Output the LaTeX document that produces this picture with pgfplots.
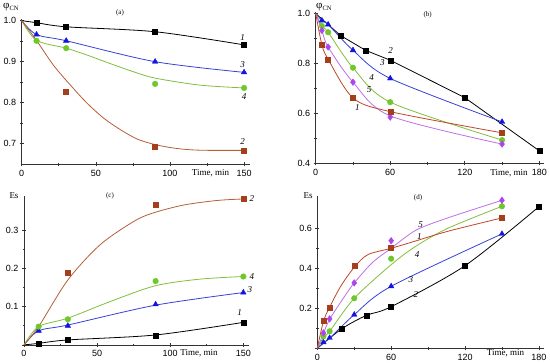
\documentclass[border=0pt]{standalone}
\usepackage{fontspec}
\setmainfont{Liberation Serif}
\setsansfont{Liberation Sans}
\usepackage{pgfplots}
\pgfplotsset{compat=1.18}
\definecolor{cbrownm}{RGB}{165,62,28}
\definecolor{cbrownl}{RGB}{180,95,55}
\definecolor{cbrownl2}{RGB}{190,70,40}
\definecolor{cbluem}{RGB}{20,20,225}
\definecolor{cbluel}{RGB}{55,65,215}
\definecolor{cgreenm}{RGB}{110,200,40}
\definecolor{cgreenl}{RGB}{130,190,60}
\definecolor{cmagm}{RGB}{170,70,240}
\definecolor{cmagl}{RGB}{190,110,230}
\tikzset{num/.style={font=\itshape\fontsize{9}{10}\selectfont}}
\pgfplotsset{
  panel/.style={scale only axis, anchor=south west, axis lines=left,
    axis line style={-, line width=0.7pt, black!80},
    tick align=center, major tick length=4pt, minor tick length=2.5pt,
    every tick/.style={black!80, line width=0.6pt},
    ticklabel style={font=\sffamily\fontsize{9}{10}\selectfont},
    /pgf/number format/assume math mode=true,
    minor x tick num=1, minor y tick num=1, clip=false},
  lk/.style={line width=0.8pt, black, smooth, tension=0.5, no markers},
  mk/.style={only marks, mark=square*, mark size=2.5pt, black},
  mbr/.style={only marks, mark=square*, mark size=2.5pt, cbrownm},
  mbl/.style={only marks, mark=triangle*, mark size=3.2pt, cbluem},
  mgr/.style={only marks, mark=*, mark size=2.8pt, cgreenm},
  mmg/.style={only marks, mark=diamond*, mark size=3.3pt, cmagm}
}
\begin{document}
\begin{tikzpicture}
\useasboundingbox (0,0) rectangle (550pt,364pt);
% ---------------- (a)
\begin{axis}[panel, at={(21.7pt,199.7pt)}, width=228.3pt, height=145.7pt,
  xmin=0, xmax=154, ymin=0.65, ymax=1.005,
  xtick={0,50,100,150}, xticklabels={0,50,100,150},
  ytick={0.7,0.8,0.9,1.0}, yticklabels={0.7,0.8,0.9,1.0}]
\addplot[lk] coordinates {(0,1.0)(10,0.995)(30,0.985)(90,0.973)(150,0.941)};
\addplot[lk, cbluel] coordinates {(0,1.0)(10,0.966)(30,0.951)(90,0.900)(150,0.874)};
\addplot[lk, cgreenl] coordinates {(0,1.0)(10,0.952)(30,0.933)(45,0.915)(60,0.895)(75,0.876)(90,0.860)(120,0.843)(150,0.836)};
\addplot[lk, cbrownl] coordinates {(0,1.0)(9,0.957)(21.3,0.892)(32.6,0.844)(43.8,0.800)(55.1,0.763)(66.3,0.735)(77.6,0.712)(88.8,0.699)(100,0.691)(111.3,0.686)(124.8,0.684)(150,0.684)};
\addplot[mk] coordinates {(10,0.995)(30,0.985)(90,0.973)(150,0.941)};
\addplot[mbl] coordinates {(10,0.966)(30,0.951)(90,0.900)(150,0.874)};
\addplot[mgr] coordinates {(10,0.951)(30,0.933)(90,0.846)(150,0.836)};
\addplot[mbr] coordinates {(30,0.828)(90,0.693)(150,0.684)};
\node[num] at (axis cs:149,0.958) {1};
\node[num] at (axis cs:149,0.894) {3};
\node[num] at (axis cs:150,0.815) {4};
\node[num] at (axis cs:149,0.706) {2};
\end{axis}
% ---------------- (b)
\begin{axis}[panel, at={(315.7pt,200.7pt)}, width=228.6pt, height=151pt,
  xmin=0, xmax=184, ymin=0.4, ymax=1.005,
  xtick={0,60,120,180}, xticklabels={0,60,120,180},
  ytick={0.4,0.6,0.8,1.0}, yticklabels={0.4,0.6,0.8,1.0}]
\addplot[line width=0.8pt, black, no markers] coordinates {(0,1.0)(20,0.912)(40,0.853)(60,0.813)(120,0.663)(180,0.450)};
\addplot[lk, cbluel] coordinates {(0,1.0)(5,0.972)(10,0.956)(30,0.853)(60,0.740)(150,0.566)};
\addplot[lk, cgreenl] coordinates {(0,1.0)(5,0.950)(10,0.925)(30,0.783)(60,0.645)(150,0.493)};
\addplot[lk, cmagl] coordinates {(0,1.0)(5,0.932)(10,0.866)(30,0.725)(60,0.590)(150,0.477)};
\addplot[lk, cbrownl2] coordinates {(0,1.0)(5,0.875)(10,0.817)(30,0.662)(60,0.607)(150,0.522)};
\addplot[mk] coordinates {(20,0.912)(40,0.853)(60,0.813)(120,0.663)(180,0.450)};
\addplot[mbl] coordinates {(5,0.972)(10,0.956)(30,0.853)(60,0.740)(150,0.566)};
\addplot[mgr] coordinates {(5,0.950)(10,0.925)(30,0.783)(60,0.645)(150,0.493)};
\addplot[mmg] coordinates {(5,0.932)(10,0.866)(30,0.725)(60,0.585)(150,0.477)};
\addplot[mbr] coordinates {(5,0.875)(10,0.817)(30,0.662)(60,0.607)(150,0.522)};
\node[num] at (axis cs:60.4,0.850) {2};
\node[num] at (axis cs:53.6,0.804) {3};
\node[num] at (axis cs:45,0.744) {4};
\node[num] at (axis cs:43,0.694) {5};
\node[num] at (axis cs:33.5,0.622) {1};
\end{axis}
% ---------------- (c)
\begin{axis}[panel, at={(24pt,19.1pt)}, width=225.2pt, height=149pt,
  xmin=0, xmax=154, ymin=0, ymax=0.39,
  xtick={0,50,100,150}, xticklabels={0,50,100,150},
  ytick={0,0.1,0.2,0.3}, yticklabels={,0.1,0.2,0.3}]
\addplot[lk] coordinates {(0,0)(10,0.004)(30,0.013)(90,0.026)(150,0.059)};
\addplot[lk, cbluel] coordinates {(0,0)(10,0.037)(30,0.052)(90,0.104)(150,0.137)};
\addplot[lk, cgreenl] coordinates {(0,0)(10,0.048)(30,0.070)(60,0.115)(90,0.155)(120,0.172)(150,0.179)};
\addplot[lk, cbrownl] coordinates {(0,0)(10,0.048)(30,0.170)(52,0.262)(75,0.323)(88,0.345)(109,0.366)(132,0.378)(150,0.382)};
\addplot[mk] coordinates {(10,0.004)(30,0.013)(90,0.025)(150,0.059)};
\addplot[mbl] coordinates {(10,0.037)(30,0.050)(90,0.106)(150,0.137)};
\addplot[mgr] coordinates {(10,0.048)(30,0.067)(90,0.167)(150,0.179)};
\addplot[mbr] coordinates {(30,0.190)(90,0.368)(150,0.382)};
\node[num] at (axis cs:155.8,0.383) {2};
\node[num] at (axis cs:155.8,0.180) {4};
\node[num] at (axis cs:154.5,0.144) {3};
\node[num] at (axis cs:147.5,0.084) {1};
\end{axis}
% ---------------- (d)
\begin{axis}[panel, at={(317.3pt,15.7pt)}, width=226.5pt, height=152pt,
  xmin=0, xmax=184, ymin=0, ymax=0.76,
  xtick={0,60,120,180}, xticklabels={0,60,120,180},
  ytick={0,0.2,0.4,0.6}, yticklabels={,0.2,0.4,0.6}]
\addplot[lk] coordinates {(0,0)(20,0.098)(40,0.165)(60,0.208)(120,0.413)(180,0.708)};
\addplot[lk, cbluel] coordinates {(0,0)(5,0.028)(10,0.050)(30,0.168)(60,0.310)(150,0.572)};
\addplot[lk, cgreenl] coordinates {(0,0)(5,0.055)(10,0.085)(30,0.250)(60,0.418)(80,0.510)(106,0.600)(150,0.710)};
\addplot[lk, cmagl] coordinates {(0,0)(5,0.075)(10,0.145)(20,0.240)(30,0.327)(45,0.430)(60,0.500)(80,0.590)(106,0.652)(150,0.740)};
\addplot[lk, cbrownl2] coordinates {(0,0)(5,0.135)(10,0.205)(19,0.310)(30,0.405)(41,0.468)(60,0.500)(79,0.535)(106,0.585)(150,0.652)};
\addplot[mk] coordinates {(20,0.098)(40,0.165)(60,0.208)(120,0.413)(180,0.708)};
\addplot[mbl] coordinates {(5,0.030)(10,0.052)(30,0.168)(60,0.310)(150,0.572)};
\addplot[mgr] coordinates {(5,0.060)(10,0.085)(30,0.250)(60,0.448)(150,0.710)};
\addplot[mmg] coordinates {(5,0.077)(10,0.147)(30,0.327)(60,0.538)(150,0.740)};
\addplot[mbr] coordinates {(5,0.140)(10,0.205)(30,0.415)(60,0.502)(150,0.652)};
\node[num] at (axis cs:84,0.618) {5};
\node[num] at (axis cs:83,0.557) {1};
\node[num] at (axis cs:81,0.468) {4};
\node[num] at (axis cs:76,0.343) {3};
\node[num] at (axis cs:80,0.268) {2};
\end{axis}
% ---------------- texts
\node[anchor=west, inner sep=0pt] at (3pt,357pt) {\fontsize{11}{12}\selectfont φ\raisebox{-2.5pt}{\fontsize{6.5}{7}\selectfont CN}};
\node[anchor=west, inner sep=0pt] at (316pt,357pt) {\fontsize{11}{12}\selectfont φ\raisebox{-2.5pt}{\fontsize{6.5}{7}\selectfont CN}};
\node[inner sep=0pt] at (14pt,168.5pt) {\fontsize{9}{10}\selectfont Es};
\node[inner sep=0pt] at (308pt,168.5pt) {\fontsize{9}{10}\selectfont Es};
\node[inner sep=0pt] at (120pt,351pt) {\fontsize{7}{8}\selectfont (a)};
\node[inner sep=0pt] at (427.7pt,349pt) {\fontsize{7}{8}\selectfont (b)};
\node[inner sep=0pt] at (110pt,168pt) {\fontsize{7}{8}\selectfont (c)};
\node[inner sep=0pt] at (418pt,166pt) {\fontsize{7}{8}\selectfont (d)};
\node[inner sep=0pt] at (210.5pt,191pt) {\fontsize{9}{10}\selectfont Time, min};
\node[inner sep=0pt] at (509pt,191pt) {\fontsize{9}{10}\selectfont Time, min};
\node[inner sep=0pt] at (199pt,11pt) {\fontsize{9}{10}\selectfont Time, min};
\node[inner sep=0pt] at (505.5pt,11pt) {\fontsize{9}{10}\selectfont Time, min};
\end{tikzpicture}
\end{document}
